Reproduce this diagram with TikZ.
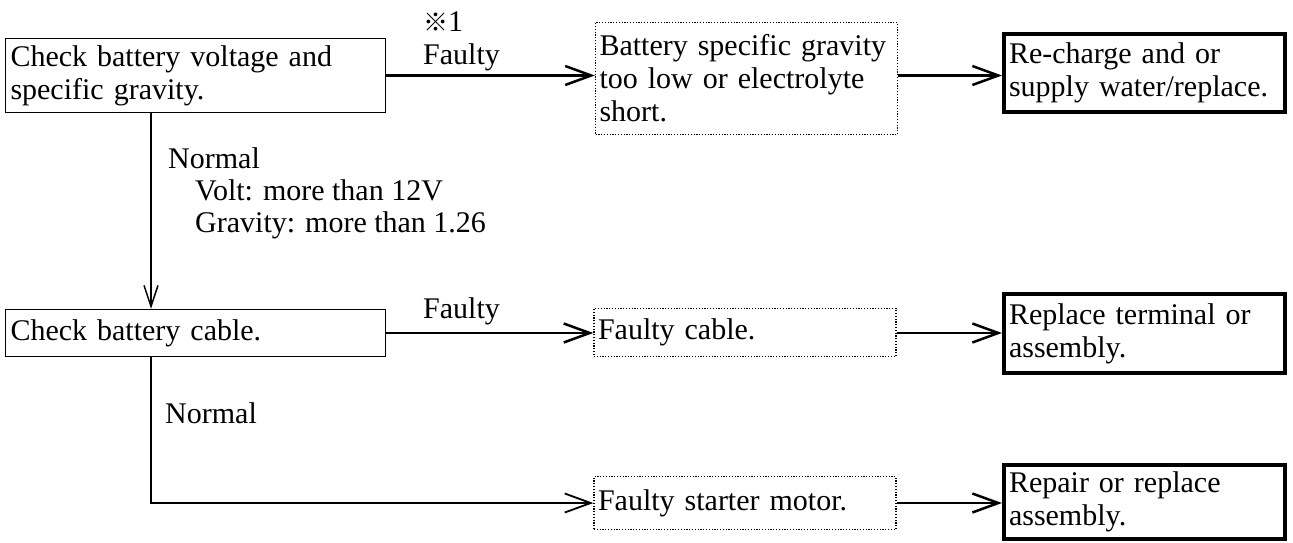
\documentclass[tikz,border=0pt]{standalone}
\usepackage{fontspec}
\setmainfont{Liberation Serif}
\newfontfamily\cjkfont{Noto Sans CJK JP}
\usetikzlibrary{arrows.meta,calc}
\hyphenpenalty=10000
\exhyphenpenalty=10000
\begin{document}
\begin{tikzpicture}[x=1pt,y=-1pt,
  every node/.style={font=\fontsize{30}{33}\selectfont},
  box/.style={draw, line width=1.5pt, align=left, inner xsep=5pt, inner ysep=0pt},
  dotbox/.style={draw, line width=1.3pt, dash pattern=on 1.2pt off 1.6pt, align=left, inner xsep=4pt, inner ysep=0pt},
  endbox/.style={draw, line width=4pt, align=left, inner xsep=5pt, inner ysep=0pt},
  harrow/.style={line width=2.5pt, -{Straight Barb[length=26pt,width=19pt]}},
  varrow/.style={line width=1.5pt, -{Straight Barb[length=21pt,width=14pt]}},
  larrow/.style={line width=1.8pt, -{Straight Barb[length=26pt,width=19pt]}},
  lbl/.style={anchor=base west, inner sep=0pt}
]
\useasboundingbox (0,0) rectangle (1293,543);

% first column
\node[box, text width=370pt, minimum height=74pt] (b1) at (195.5,75.5)
  {Check battery voltage and\\specific gravity.};
\node[box, text width=370pt, minimum height=47pt] (b4) at (195.5,333)
  {Check battery cable.};

% second column
\node[dotbox, text width=294pt, minimum height=112pt] (b2) at (746.5,78.5)
  {Battery specific gravity\\too low or electrolyte\\short.};
\node[dotbox, text width=294pt, minimum height=48pt] (b5) at (745,332.5)
  {Faulty cable.};
\node[dotbox, text width=294pt, minimum height=53pt] (b7) at (745,503)
  {Faulty starter motor.};

% third column
\node[endbox, text width=271pt, minimum height=78pt] (b3) at (1144.5,73)
  {Re-charge and or\\supply water/replace.};
\node[endbox, text width=271pt, minimum height=79pt] (b6) at (1144.5,333.5)
  {Replace terminal or\\assembly.};
\node[endbox, text width=271pt, minimum height=74pt] (b8) at (1144.5,502)
  {Repair or replace\\assembly.};

% connectors
\draw[harrow] (b1.east) -- (b1.east -| b2.west);
\draw[harrow] (b1.east -| b2.east) -- (b1.east -| b3.west);
\draw[harrow] (b4.east) -- (b4.east -| b5.west);
\draw[harrow] (b4.east -| b5.east) -- (b4.east -| b6.west);
\draw[harrow] (b7.east) -- (b7.east -| b8.west);

\coordinate (vx) at (151,0);
\draw[varrow] (b1.south -| vx) -- (b4.north -| vx);
\draw[larrow] (b4.south -| vx) |- (b7.west);

% labels
\node[lbl] (ref1) at (423,32) {{\cjkfont\fontsize{25}{25}\selectfont ※}1};
\node[lbl] (f1) at (423,64) {Faulty};
\node[lbl] (n1) at (168,168) {Normal};
\node[lbl] (v1) at (195,200) {Volt: more than 12V};
\node[lbl] (g1) at (195,232) {Gravity: more than 1.26};
\node[lbl] (f2) at (423,318) {Faulty};
\node[lbl] (n2) at (165,423) {Normal};
\end{tikzpicture}
\end{document}
